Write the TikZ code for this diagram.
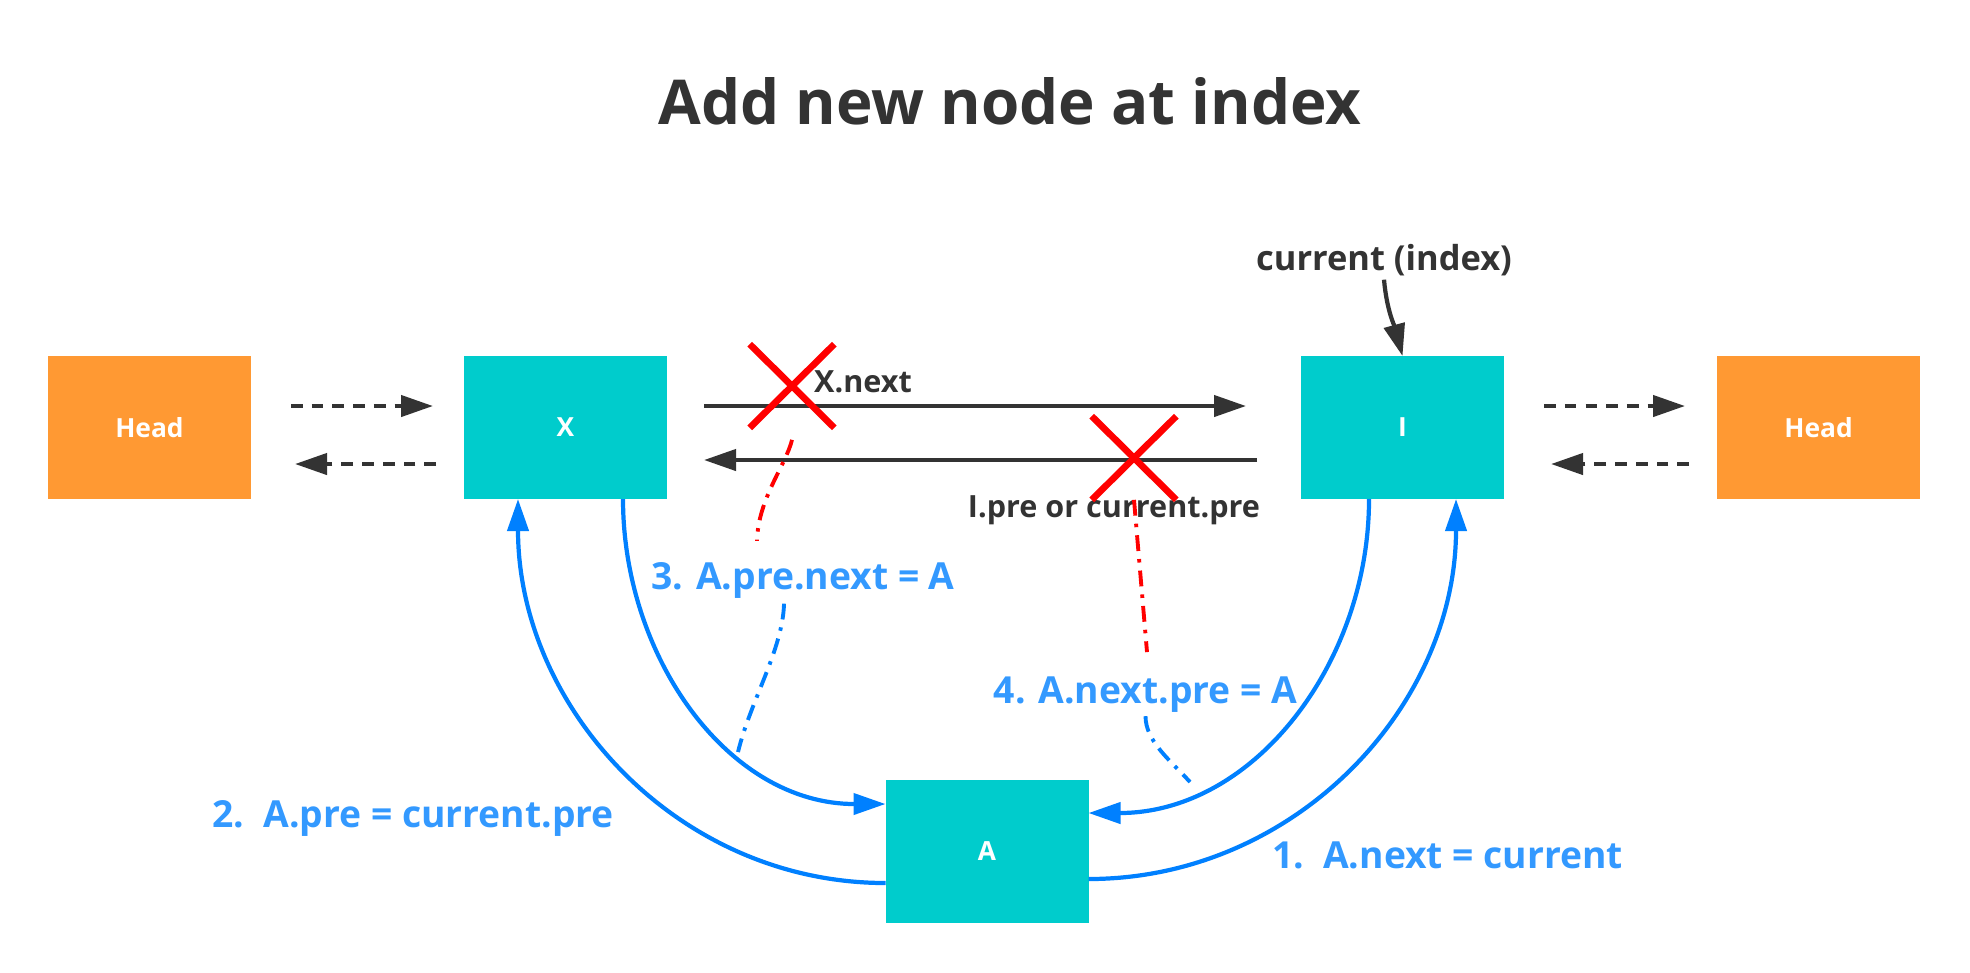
\documentclass[tikz,border=0pt]{standalone}
\usepackage{fontspec}
\setmainfont{Open Sans}
\usepackage{xcolor}
\usetikzlibrary{arrows.meta, positioning, shapes.misc}

\definecolor{boxteal}{HTML}{00CCCC}
\definecolor{headorange}{HTML}{FF9933}
\definecolor{inkgray}{HTML}{333333}
\definecolor{linkblue}{HTML}{0080FF}
\definecolor{textblue}{HTML}{3399FF}

\begin{document}
\begin{tikzpicture}[
  node distance=2.13cm,
  listbox/.style={fill=boxteal, minimum width=2.03cm, minimum height=1.43cm,
                  inner sep=0pt, outer sep=0pt, text=white,
                  font=\fontsize{7.5}{9}\selectfont\bfseries},
  headbox/.style={listbox, fill=headorange},
  arr/.style={-{Triangle[length=3.2mm, width=2.1mm]}, line width=1.2pt},
  ptr/.style={arr, draw=inkgray},
  dptr/.style={ptr, dash pattern=on 3.3pt off 2.6pt},
  bptr/.style={arr, draw=linkblue},
  note/.style={text=inkgray, font=\fontsize{8.7}{10}\selectfont\bfseries, inner sep=1pt},
  stepnote/.style={text=textblue, font=\fontsize{10.6}{12}\selectfont\bfseries, inner sep=1pt},
  cutmark/.style={draw=red, cross out, line width=1.9pt, minimum width=0.78cm,
                  minimum height=0.77cm, inner sep=0pt},
  cutline/.style={draw=red, line width=1.1pt, dash pattern=on 4.5pt off 2.3pt on 1pt off 2.3pt},
  hintline/.style={cutline, draw=linkblue}
]
  \path[use as bounding box, fill=white] (0,0) rectangle (19.70,-9.72);

  % Title
  \node[anchor=base, text=inkgray, font=\fontsize{17.6}{22}\selectfont\bfseries] (title)
    at (10.10,-1.24) {Add new node at index};

  % List
  \node[headbox] (headl) at (1.495,-4.275) {Head};
  \node[listbox, right=of headl] (nx) {X};
  \node[listbox, right=6.34cm of nx] (ni) {I};
  \node[headbox, right=of ni] (headr) {Head};
  \node[listbox] (na) at (9.87,-8.515) {A};

  % Old links
  \draw[dptr] ([shift={(0.40,0.215)}]headl.east) -- ([shift={(-0.31,0.215)}]nx.west);
  \draw[dptr] ([shift={(-0.28,-0.365)}]nx.west) -- ([shift={(0.44,-0.365)}]headl.east);
  \draw[ptr] ([shift={(0.37,0.215)}]nx.east) -- ([shift={(-0.55,0.215)}]ni.west);
  \draw[ptr] ([shift={(-0.44,-0.325)}]ni.west) -- ([shift={(0.37,-0.325)}]nx.east);
  \draw[dptr] ([shift={(0.40,0.215)}]ni.east) -- ([shift={(-0.32,0.215)}]headr.west);
  \draw[dptr] ([shift={(-0.28,-0.365)}]headr.west) -- ([shift={(0.47,-0.365)}]ni.east);

  % Labels
  \node[note, anchor=base west] (xnext) at (8.10,-3.92) {X.next};
  \node[note, anchor=base] (ipre) at (11.14,-5.17) {I.pre or current.pre};
  \node[note, font=\fontsize{9.8}{12}\selectfont\bfseries, anchor=base] (cur)
    at (13.84,-2.70) {current (index)};
  \draw[ptr] (cur.south) to[out=-85, in=105] (ni.north);

  % New links
  \draw[bptr] ([yshift=-0.275cm]na.east) to[out=0, in=-90] ([xshift=0.535cm]ni.south);
  \draw[bptr] ([yshift=-0.315cm]na.west) to[out=180, in=-90] ([xshift=-0.475cm]nx.south);
  \draw[bptr] ([xshift=0.575cm]nx.south) to[out=-90, in=180] ([yshift=0.475cm]na.west);
  \draw[bptr] ([xshift=-0.335cm]ni.south) to[out=-90, in=0] ([yshift=0.385cm]na.east);

  % Steps
  \node[stepnote, anchor=base] (s1) at (14.475,-8.68) {1.~~A.next = current};
  \node[stepnote, anchor=base] (s2) at (4.13,-8.27) {2.~~A.pre = current.pre};
  \node[stepnote, anchor=base] (s3) at (8.03,-5.89) {3. A.pre.next = A};
  \node[stepnote, anchor=base] (s4) at (11.455,-7.03) {4. A.next.pre = A};

  % Cuts
  \node[cutmark] (cutx) at (7.92,-3.86) {};
  \node[cutmark] (cuti) at (11.34,-4.58) {};
  \draw[cutline] ([yshift=-0.12cm]cutx.south) .. controls +(-0.06,-0.25) and +(0.01,0.42)
    .. ([shift={(-0.46,0.17)}]s3.north);
  \draw[cutline] (cuti.south) -- ([shift={(0.015,0.2)}]s4.north);

  % Hints
  \coordinate (on3) at (7.38,-7.52);
  \coordinate (on4) at (11.90,-7.82);
  \draw[hintline] ([shift={(-0.19,-0.015)}]s3.south) .. controls +(-0.01,-0.45) and +(0.12,0.5) .. (on3);
  \draw[hintline] (s4.south) .. controls +(0,-0.25) and +(-0.2,0.22) .. (on4);
\end{tikzpicture}
\end{document}
